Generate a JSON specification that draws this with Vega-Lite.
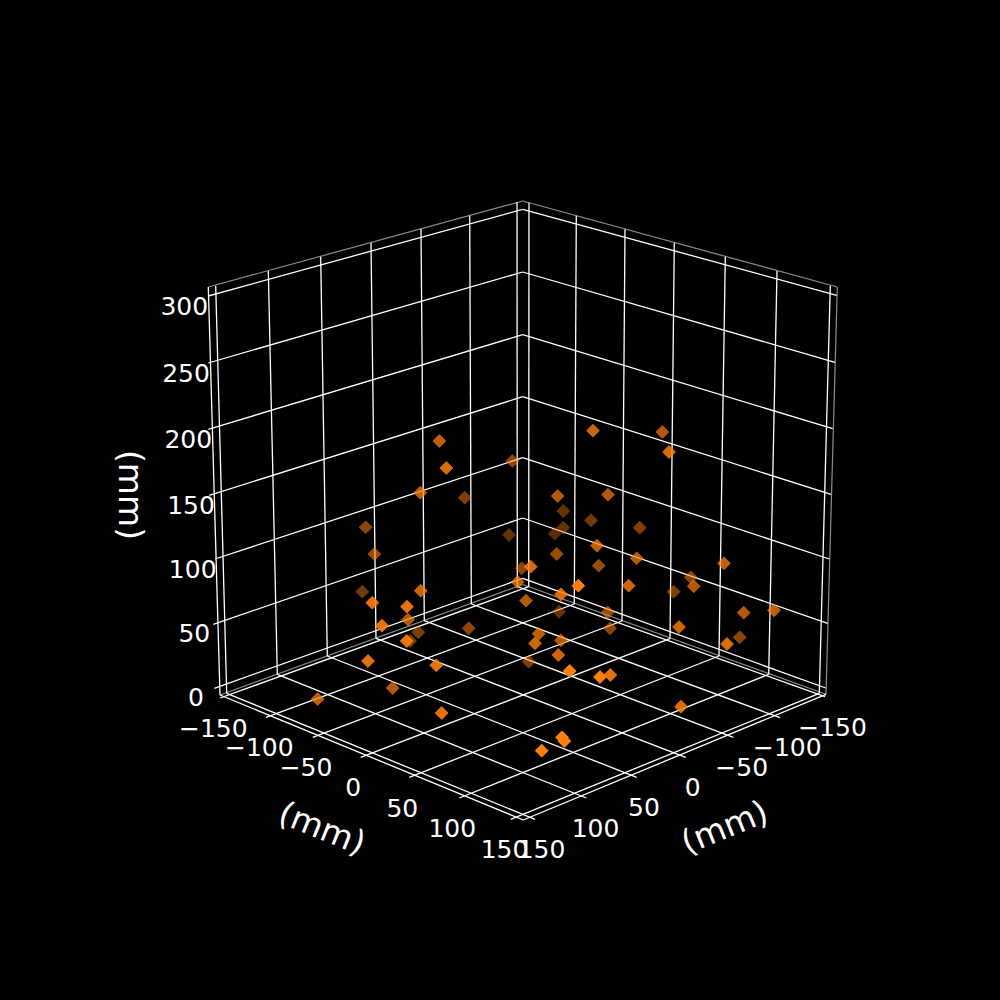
{
  "$schema": "https://vega.github.io/schema/vega-lite/v6.json",
  "description": "3D scatter of points in mm, drawn on the projected view plane",
  "width": 1000,
  "height": 1000,
  "padding": 0,
  "autosize": {"type": "fit", "contains": "padding"},
  "background": "#000000",
  "config": {"view": {"stroke": null}, "text": {"font": "DejaVu Sans", "color": "#ffffff"}},
  "datasets": {
    "edges": [
      {"h1": 208.3, "v1": 287, "h2": 522.7, "v2": 201},
      {"h1": 522.7, "v1": 201, "h2": 837.3, "v2": 287},
      {"h1": 837.3, "v1": 287, "h2": 826, "v2": 694.3},
      {"h1": 220, "v1": 695, "h2": 522.7, "v2": 584.5},
      {"h1": 522.7, "v1": 584.5, "h2": 826, "v2": 694.3}
    ],
    "grid": [
      {"h1": 208.3, "v1": 287, "h2": 220, "v2": 695},
      {"h1": 220, "v1": 695, "h2": 523.3, "v2": 820},
      {"h1": 523.3, "v1": 820, "h2": 826, "v2": 694.3},
      {"h1": 215.7, "v1": 285.7, "h2": 226.7, "v2": 693.3},
      {"h1": 268.3, "v1": 271, "h2": 277.3, "v2": 674.3},
      {"h1": 320.7, "v1": 256.7, "h2": 327.3, "v2": 656},
      {"h1": 371, "v1": 242.7, "h2": 376, "v2": 638.3},
      {"h1": 421, "v1": 229, "h2": 424.3, "v2": 620.7},
      {"h1": 469.7, "v1": 215.7, "h2": 471.3, "v2": 604},
      {"h1": 517, "v1": 202, "h2": 517.3, "v2": 586.7},
      {"h1": 529, "v1": 202.7, "h2": 528.7, "v2": 586.7},
      {"h1": 576.3, "v1": 215.7, "h2": 574.3, "v2": 604},
      {"h1": 625, "v1": 229.3, "h2": 622, "v2": 621},
      {"h1": 674.3, "v1": 242.7, "h2": 670, "v2": 638.7},
      {"h1": 725.3, "v1": 256.7, "h2": 719, "v2": 656},
      {"h1": 777, "v1": 271, "h2": 768.7, "v2": 674.3},
      {"h1": 830.3, "v1": 285.7, "h2": 819.3, "v2": 693.3},
      {"h1": 208.3, "v1": 296, "h2": 522.7, "v2": 209.3},
      {"h1": 208.3, "v1": 363, "h2": 522.7, "v2": 272},
      {"h1": 208.3, "v1": 429.3, "h2": 522.7, "v2": 334.7},
      {"h1": 209.3, "v1": 495.3, "h2": 522.7, "v2": 396.7},
      {"h1": 215, "v1": 559, "h2": 522.7, "v2": 457.7},
      {"h1": 213.3, "v1": 624.3, "h2": 522.7, "v2": 518},
      {"h1": 214.3, "v1": 688.3, "h2": 522.7, "v2": 578.3},
      {"h1": 522.7, "v1": 209.3, "h2": 836.7, "v2": 295.3},
      {"h1": 522.7, "v1": 272, "h2": 835, "v2": 362.3},
      {"h1": 522.7, "v1": 334.7, "h2": 832.7, "v2": 428.7},
      {"h1": 522.7, "v1": 396.7, "h2": 831, "v2": 494.3},
      {"h1": 522.7, "v1": 457.7, "h2": 829.3, "v2": 559},
      {"h1": 522.7, "v1": 518, "h2": 827.7, "v2": 623.3},
      {"h1": 522.7, "v1": 578.3, "h2": 825.7, "v2": 688},
      {"h1": 517.3, "v1": 586.7, "h2": 825, "v2": 696.7},
      {"h1": 471.3, "v1": 604, "h2": 780, "v2": 717.7},
      {"h1": 424.3, "v1": 620.7, "h2": 733.3, "v2": 737.3},
      {"h1": 376, "v1": 638.3, "h2": 685.7, "v2": 757.3},
      {"h1": 327.3, "v1": 656, "h2": 636.7, "v2": 777.3},
      {"h1": 277.3, "v1": 674.3, "h2": 586.3, "v2": 798},
      {"h1": 226.7, "v1": 693.3, "h2": 535, "v2": 819.3},
      {"h1": 528.7, "v1": 586.7, "h2": 220, "v2": 698},
      {"h1": 574.3, "v1": 604, "h2": 266, "v2": 717.3},
      {"h1": 622, "v1": 621, "h2": 312.7, "v2": 737.3},
      {"h1": 670, "v1": 638.7, "h2": 360.7, "v2": 757.3},
      {"h1": 719, "v1": 656, "h2": 409.3, "v2": 777.3},
      {"h1": 768.7, "v1": 674.3, "h2": 459.3, "v2": 798},
      {"h1": 819.3, "v1": 693.3, "h2": 510.7, "v2": 819.3}
    ],
    "points": [
      {"h": 365.7, "v": 527.3, "depth": 0.55},
      {"h": 374.3, "v": 554, "depth": 0.6},
      {"h": 362.3, "v": 591.7, "depth": 0.45},
      {"h": 512.3, "v": 461, "depth": 0.55},
      {"h": 464.7, "v": 497.7, "depth": 0.5},
      {"h": 563.3, "v": 511, "depth": 0.4},
      {"h": 591, "v": 520.3, "depth": 0.45},
      {"h": 639.7, "v": 527.7, "depth": 0.5},
      {"h": 563.3, "v": 527.7, "depth": 0.4},
      {"h": 554.7, "v": 533.7, "depth": 0.35},
      {"h": 509, "v": 535, "depth": 0.4},
      {"h": 559, "v": 611.7, "depth": 0.4},
      {"h": 528.7, "v": 661.7, "depth": 0.5},
      {"h": 673.7, "v": 591.7, "depth": 0.5},
      {"h": 418.3, "v": 632.3, "depth": 0.5},
      {"h": 468.7, "v": 628.3, "depth": 0.55},
      {"h": 410, "v": 641, "depth": 0.5},
      {"h": 690.7, "v": 577.3, "depth": 0.55},
      {"h": 739.7, "v": 637.3, "depth": 0.55},
      {"h": 521.7, "v": 568.3, "depth": 0.55},
      {"h": 610, "v": 628.3, "depth": 0.55},
      {"h": 556.7, "v": 554, "depth": 0.6},
      {"h": 598.7, "v": 565.7, "depth": 0.6},
      {"h": 607.7, "v": 612.3, "depth": 0.6},
      {"h": 439.3, "v": 441, "depth": 0.75},
      {"h": 420.3, "v": 492.7, "depth": 0.75},
      {"h": 662.3, "v": 432, "depth": 0.7},
      {"h": 557.7, "v": 496, "depth": 0.7},
      {"h": 608, "v": 494.7, "depth": 0.7},
      {"h": 636.7, "v": 558.3, "depth": 0.7},
      {"h": 526, "v": 600.7, "depth": 0.7},
      {"h": 561, "v": 640.3, "depth": 0.7},
      {"h": 693.7, "v": 586.3, "depth": 0.7},
      {"h": 743.7, "v": 612.7, "depth": 0.7},
      {"h": 408, "v": 619.7, "depth": 0.7},
      {"h": 392.7, "v": 688, "depth": 0.7},
      {"h": 597, "v": 545.7, "depth": 0.75},
      {"h": 517.7, "v": 582, "depth": 0.75},
      {"h": 538.7, "v": 633.7, "depth": 0.75},
      {"h": 724, "v": 563.3, "depth": 0.75},
      {"h": 774, "v": 610.3, "depth": 0.75},
      {"h": 317.7, "v": 699, "depth": 0.75},
      {"h": 593, "v": 430.7, "depth": 0.8},
      {"h": 628.7, "v": 585.7, "depth": 0.8},
      {"h": 535, "v": 643.3, "depth": 0.8},
      {"h": 679, "v": 627, "depth": 0.8},
      {"h": 558.3, "v": 655, "depth": 0.8},
      {"h": 420.7, "v": 590.7, "depth": 0.8},
      {"h": 446.3, "v": 468, "depth": 0.85},
      {"h": 669, "v": 452, "depth": 0.85},
      {"h": 530.7, "v": 566.7, "depth": 0.85},
      {"h": 561, "v": 594.3, "depth": 0.85},
      {"h": 727, "v": 644, "depth": 0.85},
      {"h": 681, "v": 706.7, "depth": 0.85},
      {"h": 372.3, "v": 602.7, "depth": 0.9},
      {"h": 407, "v": 606.7, "depth": 0.9},
      {"h": 382, "v": 625.7, "depth": 0.9},
      {"h": 406.7, "v": 641, "depth": 0.9},
      {"h": 368, "v": 661, "depth": 0.9},
      {"h": 436.3, "v": 665.3, "depth": 0.9},
      {"h": 441.7, "v": 713, "depth": 0.9},
      {"h": 610.3, "v": 675, "depth": 0.9},
      {"h": 578.3, "v": 585.7, "depth": 1},
      {"h": 569.7, "v": 671, "depth": 1},
      {"h": 600, "v": 677, "depth": 1},
      {"h": 562, "v": 737.3, "depth": 1},
      {"h": 564.3, "v": 741, "depth": 1},
      {"h": 541.7, "v": 750.7, "depth": 1}
    ],
    "ticks": [
      {"label": "300", "h": 184.3, "v": 306},
      {"label": "250", "h": 186, "v": 373.3},
      {"label": "200", "h": 188.3, "v": 439},
      {"label": "150", "h": 191, "v": 505},
      {"label": "100", "h": 192.7, "v": 569.3},
      {"label": "50", "h": 194.3, "v": 633},
      {"label": "0", "h": 196, "v": 696.7},
      {"label": "−150", "h": 213.3, "v": 727.7},
      {"label": "−100", "h": 259.3, "v": 747.3},
      {"label": "−50", "h": 306, "v": 766.7},
      {"label": "0", "h": 353.3, "v": 786.7},
      {"label": "50", "h": 402.3, "v": 807.7},
      {"label": "100", "h": 452.3, "v": 828.3},
      {"label": "150", "h": 504.5, "v": 849.3},
      {"label": "−150", "h": 832.5, "v": 727.3},
      {"label": "−100", "h": 787.3, "v": 747.3},
      {"label": "−50", "h": 741.7, "v": 766.7},
      {"label": "0", "h": 692.7, "v": 786.7},
      {"label": "50", "h": 644, "v": 807.3},
      {"label": "100", "h": 595.5, "v": 828.3},
      {"label": "150", "h": 541.5, "v": 849.3}
    ]
  },
  "encoding": {
    "x": {"field": "h", "type": "quantitative", "scale": {"domain": [0, 1000]}, "axis": null},
    "y": {"field": "v", "type": "quantitative", "scale": {"domain": [1000, 0]}, "axis": null}
  },
  "layer": [
    {
      "data": {"name": "edges"},
      "mark": {"type": "rule", "color": "#8c8c8c", "strokeWidth": 1.2},
      "encoding": {
        "x": {"field": "h1", "type": "quantitative", "scale": {"domain": [0, 1000]}, "axis": null},
        "y": {"field": "v1", "type": "quantitative", "scale": {"domain": [1000, 0]}, "axis": null},
        "x2": {"field": "h2"},
        "y2": {"field": "v2"}
      }
    },
    {
      "data": {"name": "grid"},
      "mark": {"type": "rule", "color": "#ffffff", "strokeWidth": 1.3},
      "encoding": {
        "x": {"field": "h1", "type": "quantitative", "scale": {"domain": [0, 1000]}, "axis": null},
        "y": {"field": "v1", "type": "quantitative", "scale": {"domain": [1000, 0]}, "axis": null},
        "x2": {"field": "h2"},
        "y2": {"field": "v2"}
      }
    },
    {
      "data": {"name": "points"},
      "mark": {"type": "point", "shape": "diamond", "filled": true, "size": 165, "color": "#ff7f0e", "stroke": "#ff7f0e", "strokeWidth": 1},
      "encoding": {
        "opacity": {"field": "depth", "type": "quantitative", "scale": {"domain": [0, 1], "range": [0, 1]}, "legend": null}
      }
    },
    {
      "data": {"name": "ticks"},
      "mark": {"type": "text", "fontSize": 25, "align": "center", "baseline": "middle", "dy": 1},
      "encoding": {"text": {"field": "label", "type": "nominal"}}
    },
    {
      "data": {"values": [{"label": "(mm)", "h": 321.7, "v": 829.3}]},
      "mark": {"type": "text", "fontSize": 33, "align": "center", "baseline": "middle", "angle": 22},
      "encoding": {"text": {"field": "label", "type": "nominal"}}
    },
    {
      "data": {"values": [{"label": "(mm)", "h": 725, "v": 828.3}]},
      "mark": {"type": "text", "fontSize": 33, "align": "center", "baseline": "middle", "angle": -22},
      "encoding": {"text": {"field": "label", "type": "nominal"}}
    },
    {
      "data": {"values": [{"label": "(mm)", "h": 129, "v": 495}]},
      "mark": {"type": "text", "fontSize": 33, "align": "center", "baseline": "middle", "angle": 90},
      "encoding": {"text": {"field": "label", "type": "nominal"}}
    }
  ]
}
